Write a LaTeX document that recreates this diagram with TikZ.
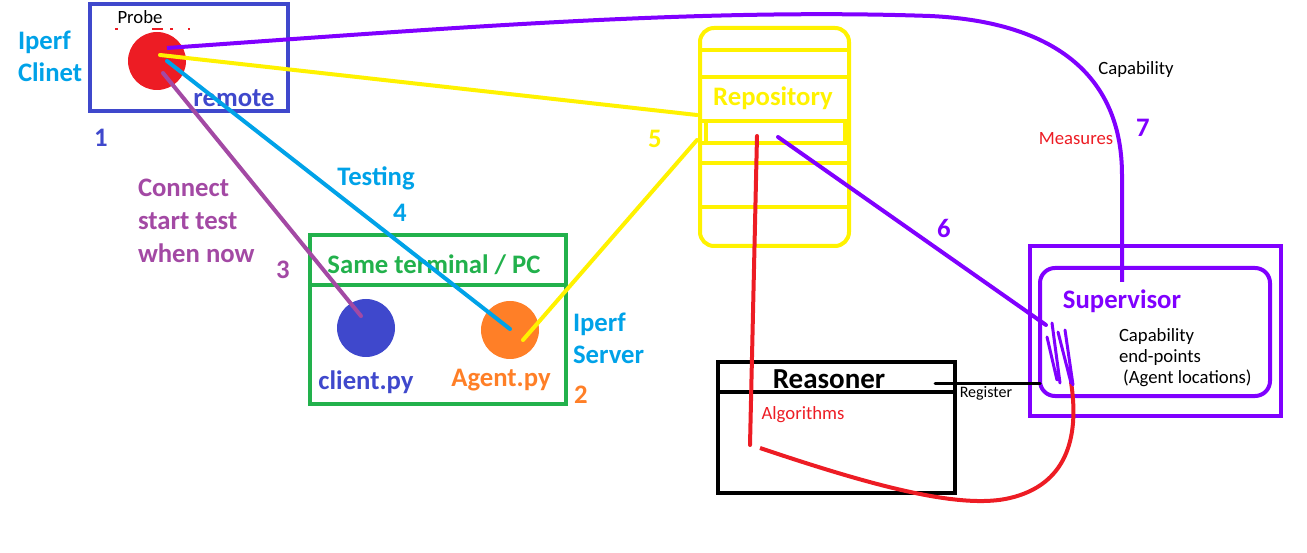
\documentclass[tikz,border=0pt]{standalone}
\usepackage{fontspec}
\setmainfont{Carlito}
\usetikzlibrary{positioning}
\definecolor{remoteblue}{RGB}{63,72,204}
\definecolor{iperfcyan}{RGB}{0,162,232}
\definecolor{probered}{RGB}{237,28,36}
\definecolor{repoyellow}{RGB}{255,242,0}
\definecolor{termgreen}{RGB}{34,177,76}
\definecolor{agentorange}{RGB}{255,127,39}
\definecolor{connpurple}{RGB}{163,73,164}
\definecolor{supviolet}{RGB}{128,0,255}

\begin{document}
\begin{tikzpicture}[x=1pt, y=-1pt, line width=4pt,
  every node/.style={inner sep=0pt, outer sep=0pt},
  lbl/.style={font=\fontsize{26.7}{32}\selectfont\bfseries},
  note/.style={font=\fontsize{18.7}{21}\selectfont},
  dot/.style={circle, minimum size=58pt}]
\useasboundingbox (0,0) rectangle (1307,553);

% boxes
\node[draw=remoteblue, minimum width=198pt, minimum height=107pt] (remote) at (189,57.5) {};
\node[draw=termgreen, minimum width=256pt, minimum height=169pt] (term) at (438,319.5) {};
\draw[termgreen] (term.west |- 0,285) -- (term.east |- 0,285);
\node[draw=repoyellow, rounded corners=14pt, minimum width=149pt, minimum height=218pt] (repo) at (774.5,137) {};
\foreach \y in {50,77,121,143,163,207}
  \draw[repoyellow] (repo.west |- 0,\y) -- (repo.east |- 0,\y);
\draw[repoyellow] (706,121) rectangle (845,143);
\node[draw, minimum width=237pt, minimum height=131pt] (reasoner) at (836.5,427.5) {};
\draw (reasoner.west |- 0,392) -- (reasoner.east |- 0,392);
\node[draw=supviolet, minimum width=251pt, minimum height=170pt] (supout) at (1155.5,331) {};
\node[draw=supviolet, rounded corners=15pt, minimum width=230pt, minimum height=128pt] (supin) at (1155,332) {};

% dots
\node[dot, fill=probered] (probe) at (157,61) {};
\node[dot, fill=remoteblue] (client) at (366,328) {};
\node[dot, fill=agentorange] (agent) at (510,330) {};
\foreach \a/\b in {115/118,152/163,170/173,188/190}
  \draw[probered, line width=2pt] (\a,29) -- (\b,29);

% texts
\node[note] (probetxt) at (140,17) {Probe};
\node[lbl, text=iperfcyan, align=left, anchor=west] (clinet) at (18,56) {Iperf\\Clinet};
\node[lbl, text=remoteblue] (remotetxt) at (234,98) {remote};
\node[lbl, text=remoteblue] (n1) at (101,138) {1};
\node[lbl, text=connpurple, align=left, anchor=west, font=\fontsize{26.7}{33}\selectfont\bfseries] (connect) at (138,221) {Connect\\start test\\when now};
\node[lbl, text=connpurple] (n3) at (283,270) {3};
\node[lbl, text=iperfcyan] (testing) at (376,178) {Testing};
\node[lbl, text=iperfcyan] (n4) at (400,213) {4};
\node[lbl, text=termgreen] (termtxt) at (434,265) {Same terminal / PC};
\node[lbl, text=remoteblue] (clienttxt) at (366,382) {client.py};
\node[lbl, text=agentorange] (agenttxt) at (501,380) {Agent.py};
\node[lbl, text=iperfcyan, align=left, anchor=west] (server) at (573,338) {Iperf\\Server};
\node[lbl, text=agentorange] (n2) at (581,395) {2};
\node[lbl, text=repoyellow] (n5) at (655,139) {5};
\node[lbl, text=repoyellow] (repotxt) at (773,98) {Repository};
\node[lbl, text=supviolet] (n6) at (944,228) {6};
\node[note] (captxt) at (1136,70) {Capability};
\node[note, text=probered] (measures) at (1076,139) {Measures};
\node[lbl, text=supviolet] (n7) at (1143,128) {7};
\node[lbl, text=supviolet] (suptxt) at (1122,301) {Supervisor};
\node[note, align=left, anchor=west] (endpoints) at (1119,358) {Capability\\end-points\\\ (Agent locations)};
\node[lbl, font=\fontsize{29}{32}\selectfont\bfseries] (reasontxt) at (829,379) {Reasoner};
\node[note, text=probered] (algo) at (803,415) {Algorithms};
\node[font=\fontsize{16}{18}\selectfont] (register) at (986,393) {Register};

% ends of the links
\coordinate (probeV) at (167,48);
\coordinate (probeY) at (160,55);
\coordinate (probeC) at (167,61);
\coordinate (probeP) at (163,73);
\coordinate (clientP) at (361,316);
\coordinate (agentC) at (510,329);
\coordinate (agentY) at (523,340);
\coordinate (repoL) at (697,115);
\coordinate (repoY) at (697,140);
\coordinate (repoV) at (778,137);
\coordinate (repoR) at (757,136);
\coordinate (algoR) at (750,445);
\coordinate (algoS) at (760,448);
\coordinate (supV) at (1046,325);
\coordinate (supTop) at (1122,282);
\coordinate (supR) at (1071,382);
\coordinate (regA) at (935,383);

\draw[line cap=round]
	(probeP) edge[connpurple] (clientP)
	(probeC) edge[iperfcyan] (agentC)
	(probeY) edge[repoyellow] (repoL)
	(agentY) edge[repoyellow] (repoY)
	(repoV) edge[supviolet] (supV)
	(repoR) edge[probered] (algoR)
	(regA) edge[line width=3pt] (supin.west |- regA)
;
\draw[supviolet] (probeV) .. controls (450,28) and (700,8) .. (930,16)
  .. controls (1060,22) and (1122,80) .. (1122,175) -- (supTop);
\draw[probered] (algoS) .. controls (870,485) and (960,510) .. (1010,498)
  .. controls (1065,485) and (1080,440) .. (supR);
% scribble
\draw[supviolet, line width=3pt, line cap=round]
  (1052,323) -- (1060,383) (1047,337) -- (1057,380)
  (1065,330) -- (1073,385) (1058,332) -- (1071,383);
\end{tikzpicture}
\end{document}
